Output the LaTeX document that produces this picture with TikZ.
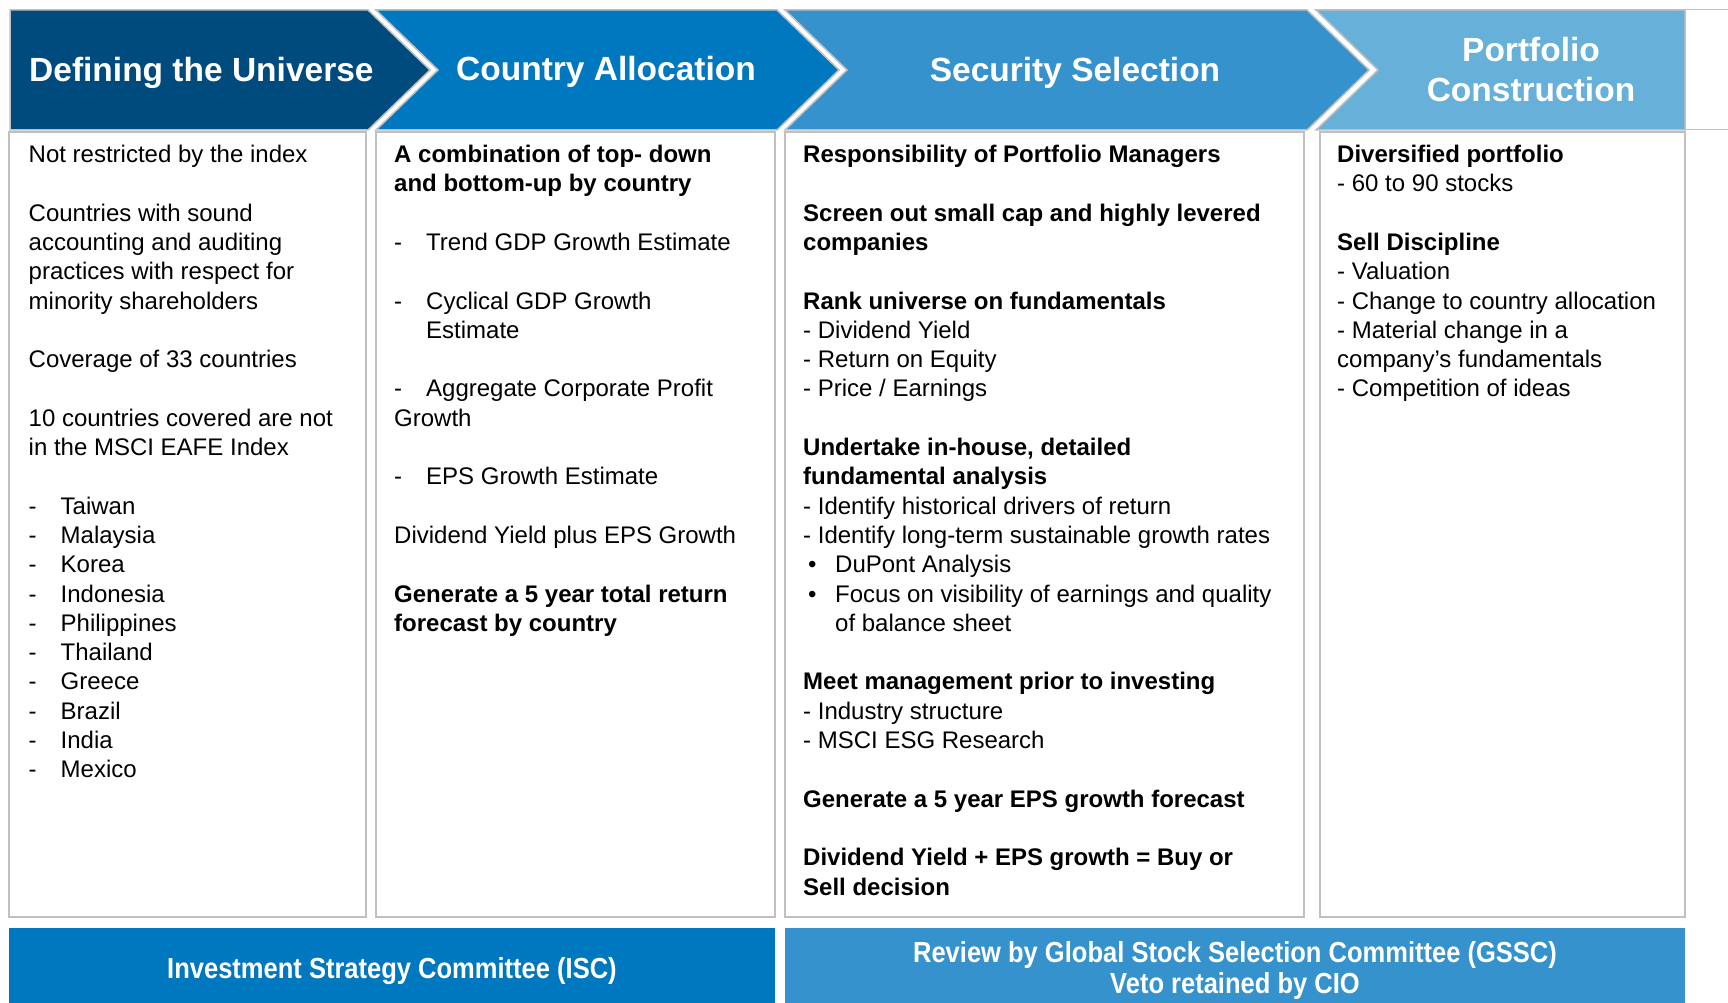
\documentclass[tikz,border=0pt]{standalone}
\usepackage{fontspec}
\setmainfont{Liberation Sans}
\usepackage{graphicx}
\definecolor{cA}{HTML}{004B7D}
\definecolor{cB}{HTML}{0078BF}
\definecolor{cC}{HTML}{3592CD}
\definecolor{cD}{HTML}{66B0DA}
\definecolor{edgegray}{HTML}{C0C0C0}
\newcommand\mydash{\makebox[32pt][l]{-}}
\newcommand\mybullet{\makebox[32pt][l]{\hspace{5pt}•}}
\newcommand\gapline{\\[29.3pt]}
\begin{document}
\begin{tikzpicture}[x=1pt,y=-1pt,
  chev/.style={draw=edgegray, line width=1.5pt, line join=miter},
  panel/.style={draw=edgegray, line width=2pt, fill=white},
  head/.style={text=white, inner sep=0pt, font=\fontsize{33.5}{40}\selectfont\bfseries},
  body/.style={inner sep=0pt, anchor=base west, text=black, font=\fontsize{24}{29.3}\selectfont},
  bartext/.style={text=white, inner sep=0pt, anchor=base, font=\fontsize{29}{31}\selectfont\bfseries}
]
\useasboundingbox[fill=white] (0,0) rectangle (1728,1003);

% header chevrons
\draw[chev, fill=cA] (10,10) -- (368,10) -- (430,70) -- (368,130) -- (10,130) -- cycle;
\draw[chev, fill=cB] (376,10) -- (777,10) -- (839,70) -- (777,130) -- (376,130) -- (438,70) -- cycle;
\draw[chev, fill=cC] (785,10) -- (1307,10) -- (1369,70) -- (1307,130) -- (785,130) -- (847,70) -- cycle;
\draw[chev, fill=cD] (1316,10) -- (1685,10) -- (1685,130) -- (1316,130) -- (1378,70) -- cycle;
\draw[edgegray, line width=1pt] (1685,10) -- (1728,10);
\draw[edgegray, line width=1pt] (1685,130) -- (1728,130);

% panels
\draw[panel] (9,132) rectangle (366,917);
\draw[panel] (376,132) rectangle (775,917);
\draw[panel] (785,132) rectangle (1304,917);
\draw[panel] (1320,132) rectangle (1685,917);

% bottom bars
\fill[cB] (9,928) rectangle (775,1003);
\fill[cC] (785,928) rectangle (1685,1003);

% header texts
\node[head, anchor=base west] (h1) at (29,81.5) {Defining the Universe};
\node[head, anchor=base west] (h2) at (456,81) {Country Allocation};
\node[head, anchor=base] (h3) at (1075,81.5) {Security Selection};
\node[head, anchor=base] (h4) at (1531,61.7) {\parbox[t]{300pt}{\centering Portfolio\\Construction}};

% column 1
\node[body] (t1) at (28.5,162.5) {\parbox[t]{330pt}{%
Not restricted by the index\gapline
Countries with sound\\
accounting and auditing\\
practices with respect for\\
minority shareholders\gapline
Coverage of 33 countries\gapline
10 countries covered are not\\
in the MSCI EAFE Index\gapline
\mydash Taiwan\\
\mydash Malaysia\\
\mydash Korea\\
\mydash Indonesia\\
\mydash Philippines\\
\mydash Thailand\\
\mydash Greece\\
\mydash Brazil\\
\mydash India\\
\mydash Mexico}};

% column 2
\node[body] (t2) at (394,162.5) {\parbox[t]{370pt}{%
\textbf{A combination of top- down}\\
\textbf{and bottom-up by country}\gapline
\mydash Trend GDP Growth Estimate\gapline
\mydash Cyclical GDP Growth\\
\hspace*{32pt}Estimate\gapline
\mydash Aggregate Corporate Profit\\
Growth\gapline
\mydash EPS Growth Estimate\gapline
Dividend Yield plus EPS Growth\gapline
\textbf{Generate a 5 year total return}\\
\textbf{forecast by country}}};

% column 3
\node[body] (t3) at (803,162.5) {\parbox[t]{490pt}{%
\textbf{Responsibility of Portfolio Managers}\gapline
\textbf{Screen out small cap and highly levered}\\
\textbf{companies}\gapline
\textbf{Rank universe on fundamentals}\\
- Dividend Yield\\
- Return on Equity\\
- Price / Earnings\gapline
\textbf{Undertake in-house, detailed}\\
\textbf{fundamental analysis}\\
- Identify historical drivers of return\\
- Identify long-term sustainable growth rates\\
\mybullet DuPont Analysis\\
\mybullet Focus on visibility of earnings and quality\\
\hspace*{32pt}of balance sheet\gapline
\textbf{Meet management prior to investing}\\
- Industry structure\\
- MSCI ESG Research\gapline
\textbf{Generate a 5 year EPS growth forecast}\gapline
\textbf{Dividend Yield + EPS growth = Buy or}\\
\textbf{Sell decision}}};

% column 4
\node[body] (t4) at (1337,162.5) {\parbox[t]{340pt}{%
\textbf{Diversified portfolio}\\
- 60 to 90 stocks\gapline
\textbf{Sell Discipline}\\
- Valuation\\
- Change to country allocation\\
- Material change in a\\
company’s fundamentals\\
- Competition of ideas}};

% bar texts
\node[bartext] (b1) at (392,978) {\scalebox{0.88}[1]{Investment Strategy Committee (ISC)}};
\node[bartext] (b2) at (1235,962) {\scalebox{0.88}[1]{Review by Global Stock Selection Committee (GSSC)}};
\node[bartext] (b3) at (1235,993) {\scalebox{0.88}[1]{Veto retained by CIO}};
\end{tikzpicture}
\end{document}
